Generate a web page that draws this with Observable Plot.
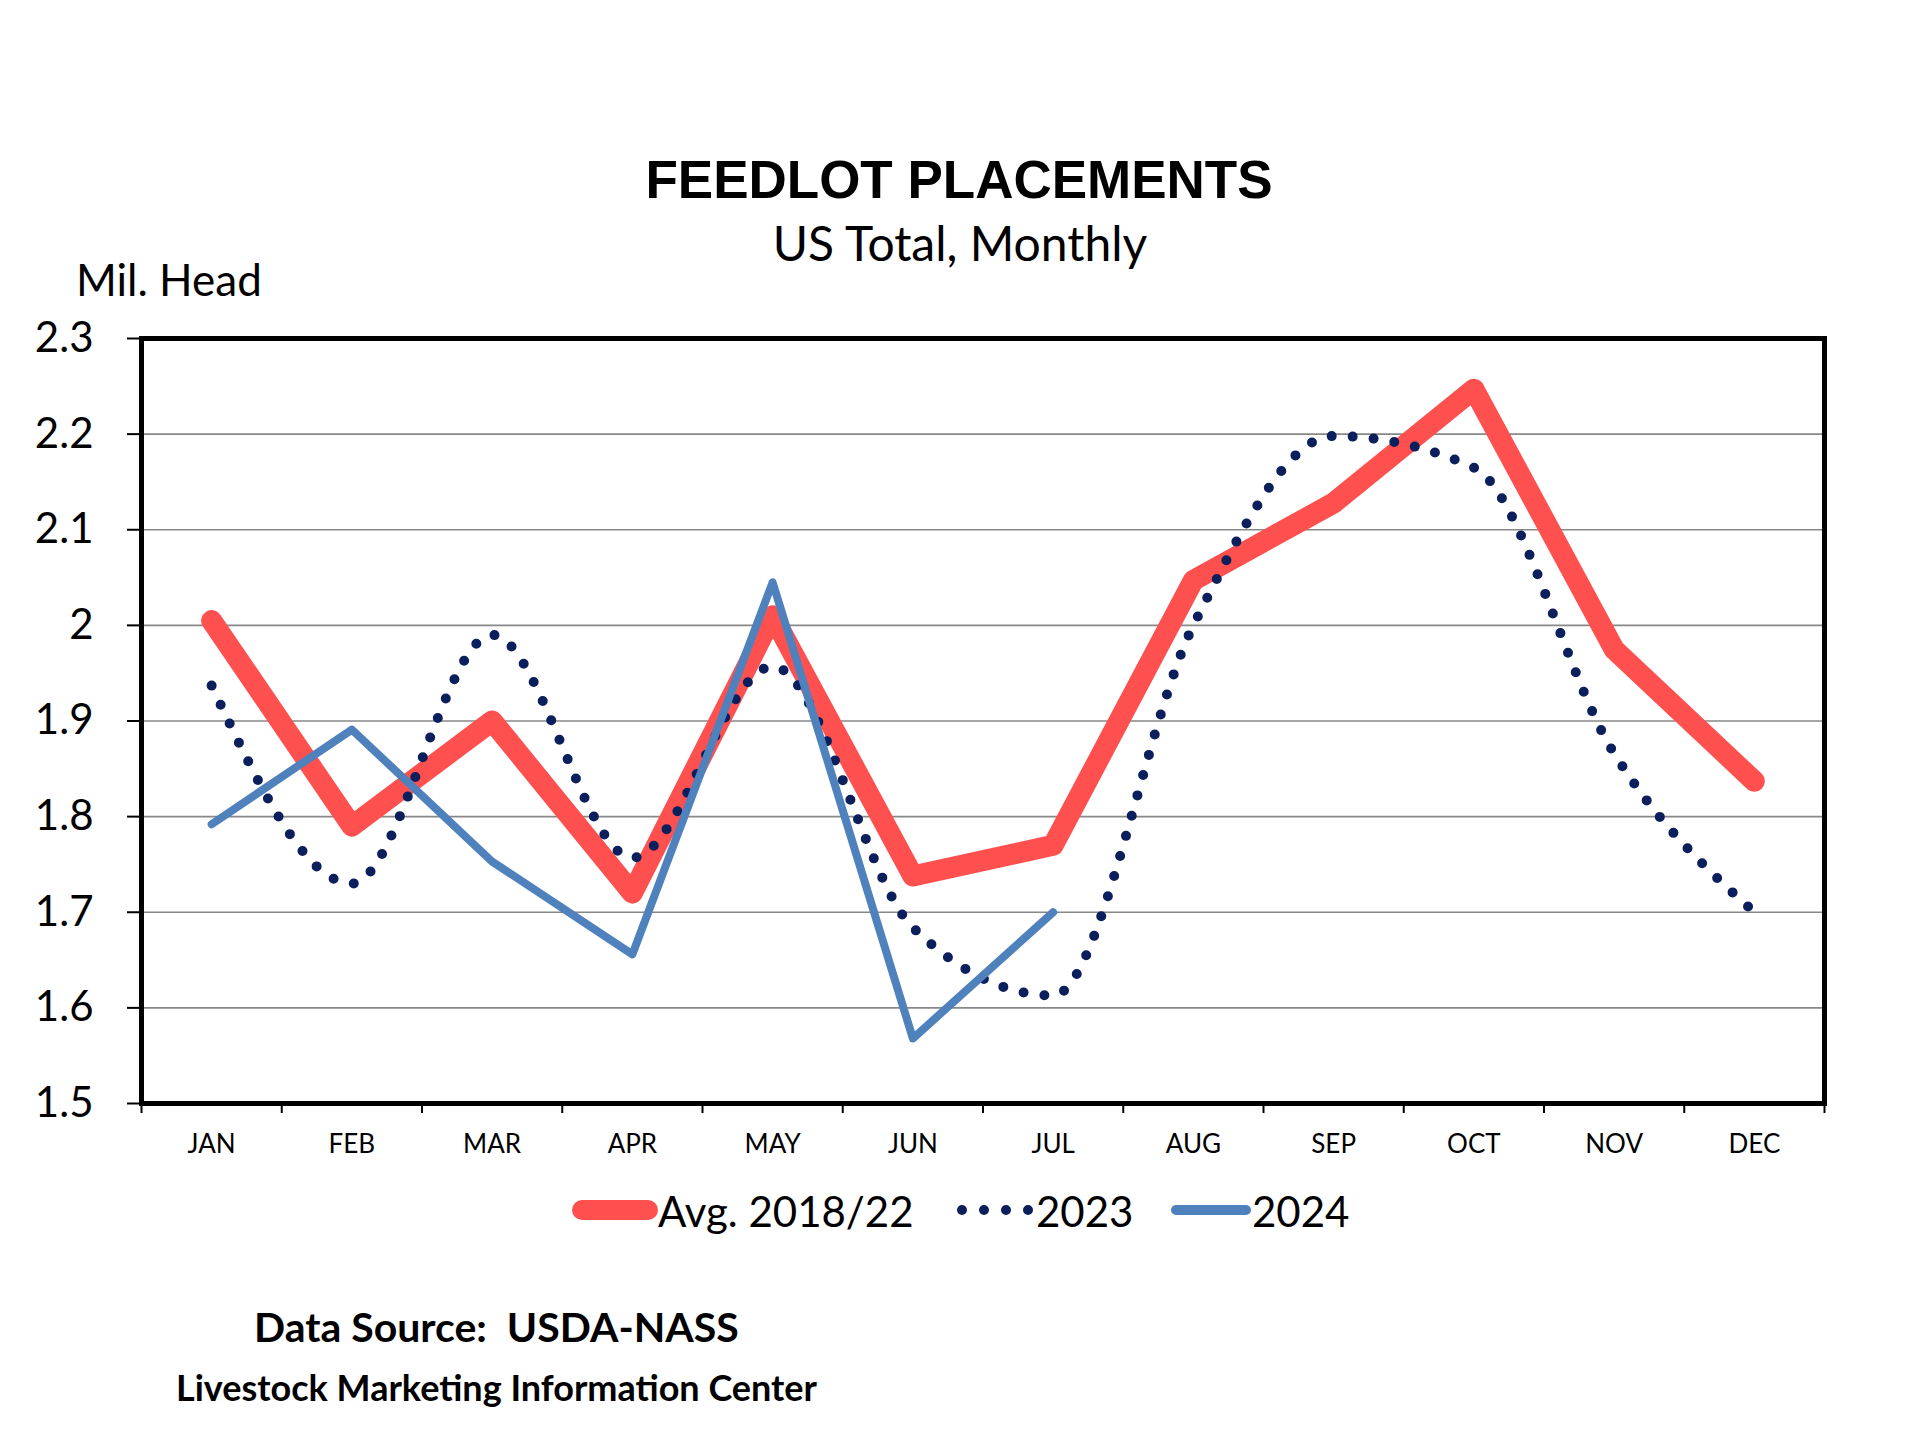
<!DOCTYPE html>
<html>
<head>
<meta charset="utf-8">
<script src="https://cdn.jsdelivr.net/npm/d3@7"></script>
<script src="https://cdn.jsdelivr.net/npm/@observablehq/plot@0.6"></script>
<style>
  body { margin: 0; background: #fff; }
  #wrap { width: 1920px; height: 1440px; background: #fff; }
  svg { display: block; }
  .pre { white-space: pre; }
</style>
</head>
<body>
<div id="wrap"></div>
<script>
// ---- data ----
const months = ["JAN","FEB","MAR","APR","MAY","JUN","JUL","AUG","SEP","OCT","NOV","DEC"];
const avg2018_22 = [2.005, 1.79, 1.90, 1.72, 2.01, 1.738, 1.77, 2.047, 2.128, 2.247, 1.975, 1.837];
const y2023 = [1.937, 1.73, 1.99, 1.757, 1.957, 1.684, 1.613, 2.00, 2.198, 2.165, 1.866, 1.70];
const y2024 = [1.792, 1.891, 1.753, 1.656, 2.045, 1.568, 1.70];
const yTicks = [1.5, 1.6, 1.7, 1.8, 1.9, 2.0, 2.1, 2.2, 2.3];
const gridValues = [1.6, 1.7, 1.8, 1.9, 2.0, 2.1, 2.2];
const seriesNames = ["Avg. 2018/22", "2023", "2024"];
const seriesColors = ["#FF5050", "#0A1F5C", "#4F81BD"];
const titleText = "FEEDLOT PLACEMENTS";
const subtitleText = "US Total, Monthly";
const yUnit = "Mil. Head";
const sourceText = "Data Source:  USDA-NASS";
const creditText = "Livestock Marketing Information Center";

const rows = vals => vals.map((v, i) => ({pos: i + 0.5, value: v, month: months[i]}));
const NS = "http://www.w3.org/2000/svg";
const wrap = document.getElementById("wrap");

function mkSvg(h) {
  const s = document.createElementNS(NS, "svg");
  s.setAttribute("width", 1920);
  s.setAttribute("height", h);
  s.setAttribute("viewBox", `0 0 1920 ${h}`);
  return s;
}
function txt(svg, str, x, y, opts = {}) {
  const t = document.createElementNS(NS, "text");
  t.setAttribute("x", x);
  t.setAttribute("y", y);
  t.setAttribute("font-family", opts.family || "Lato, sans-serif");
  t.setAttribute("font-size", opts.size || 40);
  if (opts.weight) t.setAttribute("font-weight", opts.weight);
  if (opts.anchor) t.setAttribute("text-anchor", opts.anchor);
  t.setAttribute("fill", "#000");
  t.setAttribute("class", "pre");
  t.textContent = str;
  svg.appendChild(t);
}
function seg(svg, x1, x2, y, color, w, dash) {
  const l = document.createElementNS(NS, "line");
  l.setAttribute("x1", x1); l.setAttribute("x2", x2);
  l.setAttribute("y1", y); l.setAttribute("y2", y);
  l.setAttribute("stroke", color);
  l.setAttribute("stroke-width", w);
  l.setAttribute("stroke-linecap", "round");
  if (dash) l.setAttribute("stroke-dasharray", dash);
  svg.appendChild(l);
}

// ---- header ----
const header = mkSvg(320);
txt(header, titleText, 959, 198, {family: "'Liberation Sans', Arial, sans-serif", size: 53, weight: "bold", anchor: "middle"});
txt(header, subtitleText, 960, 261, {size: 48, anchor: "middle"});
txt(header, yUnit, 76, 296, {size: 44});
wrap.appendChild(header);

// ---- chart ----
const chart = Plot.plot({
  width: 1920,
  height: 850,
  marginTop: 18,
  marginBottom: 67,
  marginLeft: 141,
  marginRight: 96,
  style: {fontFamily: "Lato, sans-serif", color: "#000", background: "transparent", overflow: "visible"},
  x: {domain: [0, 12]},
  y: {domain: [1.5, 2.3]},
  marks: [
    Plot.ruleY(gridValues, {stroke: "#888", strokeWidth: 1.6}),
    Plot.axisY({ticks: yTicks, tickSize: 14, tickPadding: 34, fontSize: 42, strokeWidth: 2,
      tickFormat: d => String(+d.toFixed(1)), label: null}),
    Plot.axisX({ticks: d3.range(0, 13), tickSize: 10, strokeWidth: 2, tickFormat: () => "", label: null}),
    Plot.axisX({ticks: months.map((m, i) => i + 0.5), tickSize: 0, tickPadding: 31, fontSize: 26,
      tickFormat: d => months[Math.floor(d)], label: null}),
    Plot.line(rows(avg2018_22), {x: "pos", y: "value", stroke: seriesColors[0], strokeWidth: 21,
      strokeLinejoin: "round", strokeLinecap: "round"}),
    Plot.line(rows(y2023), {x: "pos", y: "value", stroke: seriesColors[1], strokeWidth: 10,
      strokeDasharray: "0,21", strokeLinecap: "round", curve: "monotone-x"}),
    Plot.line(rows(y2024), {x: "pos", y: "value", stroke: seriesColors[2], strokeWidth: 8,
      strokeLinejoin: "round", strokeLinecap: "round"}),
    Plot.frame({stroke: "#000", strokeWidth: 5})
  ]
});
wrap.appendChild(chart);

// ---- legend + footer ----
const footer = mkSvg(270);
seg(footer, 582, 648, 40, seriesColors[0], 20);
txt(footer, seriesNames[0], 658, 57, {size: 42});
seg(footer, 962, 1028.5, 40, seriesColors[1], 10, "0,22");
txt(footer, seriesNames[1], 1036, 57, {size: 42});
seg(footer, 1176, 1246, 40, seriesColors[2], 10);
txt(footer, seriesNames[2], 1252, 57, {size: 42});
txt(footer, sourceText, 254, 172, {size: 41, weight: "bold"});
txt(footer, creditText, 176, 231, {size: 36, weight: "bold"});
wrap.appendChild(footer);
</script>
</body>
</html>
